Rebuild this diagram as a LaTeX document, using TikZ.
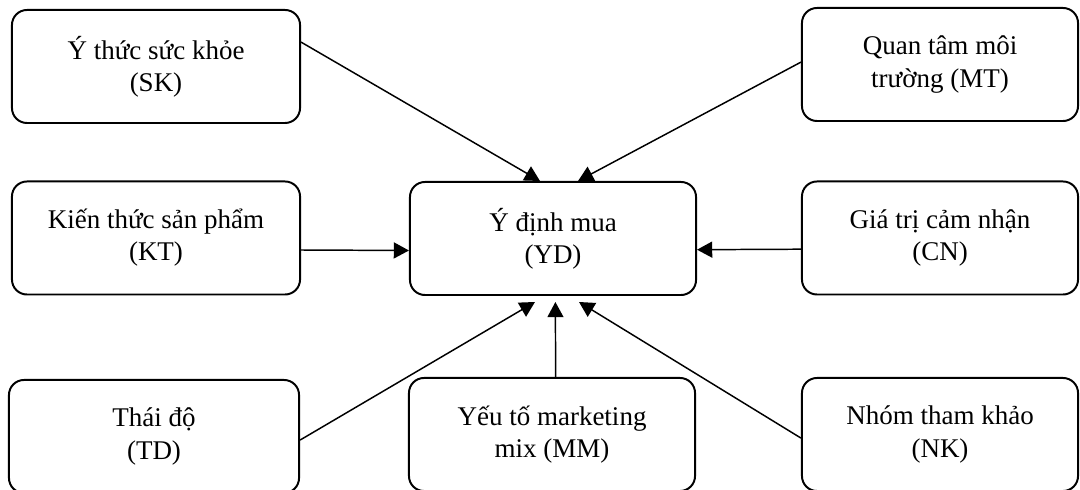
\documentclass[tikz,border=0pt]{standalone}
\usepackage{fontspec}
\setmainfont{Liberation Serif}
\usetikzlibrary{arrows.meta,positioning,calc}

\begin{document}
\begin{tikzpicture}[x=0.025cm,y=-0.025cm,
  factor/.style={draw,line width=1.4pt,rounded corners=0.375cm,minimum height=2.825cm,
    align=center,inner sep=0pt,font=\fontsize{19.2}{22.8}\selectfont},
  link/.style={line width=1.05pt,-{Triangle[length=0.38cm,width=0.4cm]}}]
  \useasboundingbox (0,0) rectangle (1080,490);
  \clip (0,0) rectangle (1080,490);
  \node[factor,minimum width=7.2cm] (SK) at (156,66.5) {Ý thức sức khỏe\\(SK)};
  \node[factor,minimum width=7.2cm] (KT) at (156,238) {Kiến thức sản phẩm\\(KT)};
  \node[factor,minimum width=7.25cm] (TD) at (154,436.5) {Thái độ\\(TD)};
  \node[factor,minimum width=7.15cm] (YD) at (553,238.5) {Ý định mua\\(YD)};
  \node[factor,minimum width=7.15cm] (MM) at (552,434.5) {Yếu tố marketing\\mix (MM)};
  \node[factor,minimum width=6.9cm] (MT) at (940,64.5) {Quan tâm môi\\trường (MT)};
  \node[factor,minimum width=6.9cm] (CN) at (940,238) {Giá trị cảm nhận\\(CN)};
  \node[factor,minimum width=6.9cm] (NK) at (940,434.5) {Nhóm tham khảo\\(NK)};
  \draw[link] ([yshift=0.61cm]SK.east) -- ([xshift=-0.325cm]YD.north);
  \draw[link] ([yshift=0.06cm]MT.west) -- ([xshift=0.625cm]YD.north);
  \draw[link] ([yshift=-0.3cm]KT.east) -- ([yshift=-0.3cm]YD.west);
  \draw[link] ([yshift=-0.28cm]CN.west) -- ([yshift=-0.28cm]YD.east);
  \draw[link] ([yshift=-0.09cm]TD.east) -- ([xshift=-0.45cm,yshift=-0.15cm]YD.south);
  \draw[link] ([xshift=0.09cm]MM.north) -- ([xshift=0.06cm,yshift=-0.15cm]YD.south);
  \draw[link] ([yshift=-0.09cm]NK.west) -- ([xshift=0.65cm,yshift=-0.15cm]YD.south);
\end{tikzpicture}
\end{document}
